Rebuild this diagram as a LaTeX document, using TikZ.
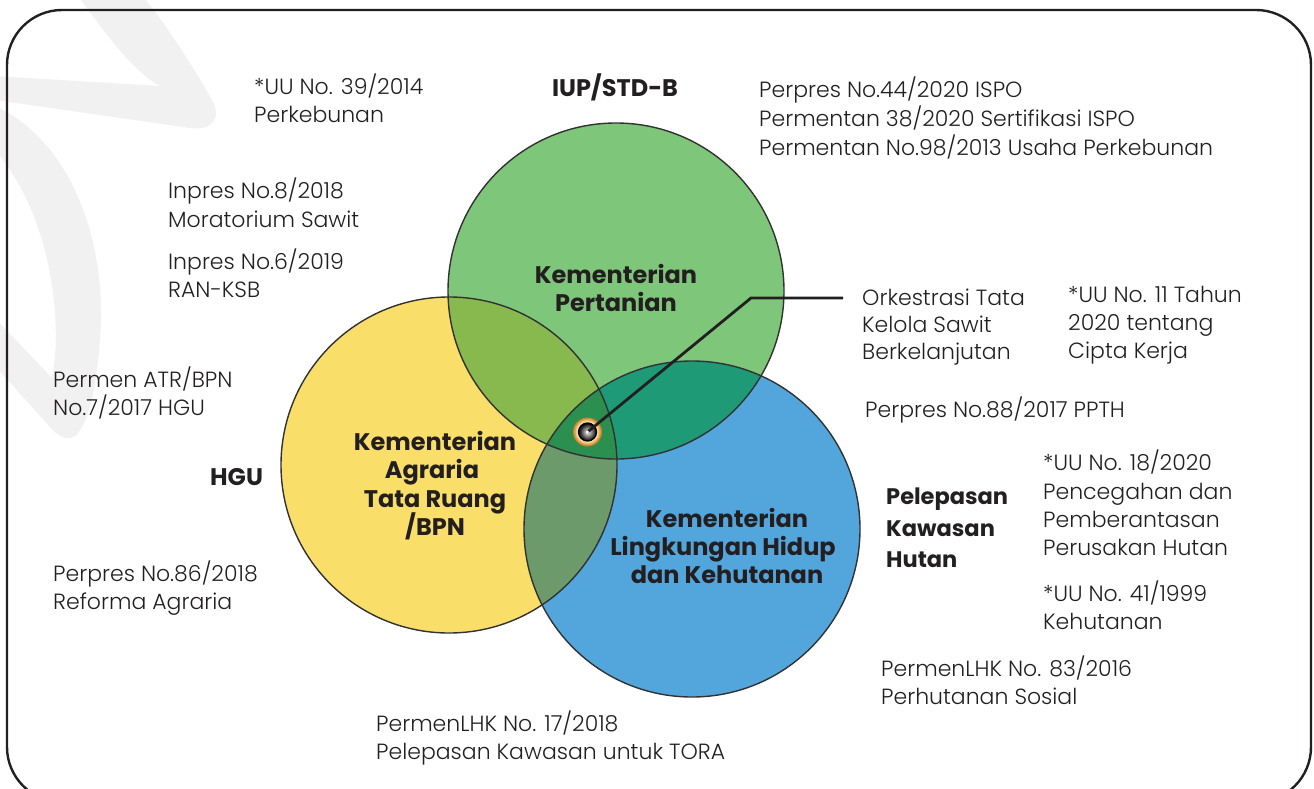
\documentclass[tikz,border=0pt]{standalone}
\usepackage{fontspec}
\setmainfont{Poppins}
\IfFontExistsTF{Poppins Light}{\newfontfamily\lightfont{Poppins Light}}{\newfontfamily\lightfont{Poppins}}
\definecolor{txt}{HTML}{231F20}
\definecolor{wm}{HTML}{F1F1F1}
\definecolor{cgreen}{HTML}{7EC67A}
\definecolor{cyellow}{HTML}{F9DF6A}
\definecolor{cblue}{HTML}{53A6DC}
\definecolor{cgy}{HTML}{88B94F}
\definecolor{cgb}{HTML}{1E9A76}
\definecolor{cyb}{HTML}{6C9A6A}
\definecolor{call}{HTML}{2B8F4F}
\definecolor{ring1}{HTML}{C4842F}
\definecolor{ring2}{HTML}{DDA353}
\definecolor{ring3}{HTML}{EEC57F}
\definecolor{ring4}{HTML}{F8DDA8}
\tikzset{
  lbl/.style={anchor=base west, inner sep=0pt, text=txt, font=\lightfont\fontsize{22}{26}\selectfont},
  blbl/.style={anchor=base, inner sep=0pt, text=txt, font=\bfseries\fontsize{24}{28}\selectfont},
  blblw/.style={anchor=base west, inner sep=0pt, text=txt, font=\bfseries\fontsize{22.5}{28}\selectfont},
  outline/.style={draw={rgb,255:red,50;green,50;blue,50}, line width=1.4pt},
  leader/.style={draw=txt, line width=2.8pt},
  frame/.style={draw=txt, line width=2.4pt, rounded corners=55pt}
}
\begin{document}
\begin{tikzpicture}[x=1pt,y=-1pt]
\useasboundingbox (0,0) rectangle (1314,789);
\clip (0,0) rectangle (1314,789);
% watermark
\fill[wm] (77,-5) .. controls (100,25) and (130,70) .. (160,86) -- (-5,76) -- (-5,100)
  -- (190,128) .. controls (212,131) and (222,118) .. (212,100)
  .. controls (195,70) and (170,30) .. (142,-5) -- cycle;
\fill[wm] (-5,106) .. controls (70,140) and (108,240) .. (100,340)
  .. controls (96,390) and (88,425) .. (75,436) .. controls (68,441) and (58,437) .. (50,427)
  -- (-5,366) -- (-5,318) -- (52,378) .. controls (62,330) and (55,220) .. (-5,150) -- cycle;
% frame
\draw[frame] (7,10) rectangle (1311,802);
% circle centres
\coordinate (G) at (616,291);
\coordinate (Y) at (449,465);
\coordinate (B) at (692,529);
% base fills
\fill[cyellow] (Y) circle[radius=168pt];
\fill[cgreen] (G) circle[radius=168pt];
\fill[cblue] (B) circle[radius=168pt];
\begin{scope}
  \clip (G) circle[radius=168pt];
  \fill[cgy] (Y) circle[radius=168pt];
  \fill[cgb] (B) circle[radius=168pt];
\end{scope}
\begin{scope}
  \clip (Y) circle[radius=168pt];
  \fill[cyb] (B) circle[radius=168pt];
  \clip (G) circle[radius=168pt];
  \fill[call] (B) circle[radius=168pt];
\end{scope}
\draw[outline] (Y) circle[radius=168pt];
\draw[outline] (G) circle[radius=168pt];
\draw[outline] (B) circle[radius=168pt];
% circle labels
\node[blbl] (g1) at (616,283) {Kementerian};
\node[blbl] (g2) at (616,311) {Pertanian};
\node[blbl] (y1) at (435,450) {Kementerian};
\node[blbl] (y2) at (432,478) {Agraria};
\node[blbl] (y3) at (435,507) {Tata Ruang};
\node[blbl] (y4) at (435,535) {/BPN};
\node[blbl] (b1) at (727,527) {Kementerian};
\node[blbl] (b2) at (723,555) {Lingkungan Hidup};
\node[blbl] (b3) at (727,583) {dan Kehutanan};
% outside bold labels
\node[blbl] (iup) at (615,97) {IUP/STD-B};
\node[blblw, font=\bfseries\fontsize{24}{28}\selectfont] (hgu) at (210,485) {HGU};
\node[blblw] (pk1) at (886,504) {Pelepasan};
\node[blblw] (pk2) at (886,536) {Kawasan};
\node[blblw] (pk3) at (886,567) {Hutan};
% regulation labels
\node[lbl] (a1) at (254,95) {*UU No. 39/2014};
\node[lbl] (a2) at (254,123) {Perkebunan};
\node[lbl] (c1) at (168,198) {Inpres No.8/2018};
\node[lbl] (c2) at (168,227) {Moratorium Sawit};
\node[lbl] (d1) at (168,269) {Inpres No.6/2019};
\node[lbl] (d2) at (168,297) {RAN-KSB};
\node[lbl] (e1) at (53,387) {Permen ATR/BPN};
\node[lbl] (e2) at (53,415) {No.7/2017 HGU};
\node[lbl] (f1) at (53,581) {Perpres No.86/2018};
\node[lbl] (f2) at (53,609) {Reforma Agraria};
\node[lbl] (h1) at (759,98) {Perpres No.44/2020 ISPO};
\node[lbl] (h2) at (759,127) {Permentan 38/2020 Sertifikasi ISPO};
\node[lbl] (h3) at (759,155) {Permentan No.98/2013 Usaha Perkebunan};
\node[lbl] (o1) at (862,305) {Orkestrasi Tata};
\node[lbl] (o2) at (862,332) {Kelola Sawit};
\node[lbl] (o3) at (862,359) {Berkelanjutan};
\node[lbl] (u1) at (1068,302) {*UU No. 11 Tahun};
\node[lbl] (u2) at (1068,330) {2020 tentang};
\node[lbl] (u3) at (1068,358) {Cipta Kerja};
\node[lbl] (p1) at (865,417) {Perpres No.88/2017 PPTH};
\node[lbl] (k1) at (1043,470) {*UU No. 18/2020};
\node[lbl] (k2) at (1043,499) {Pencegahan dan};
\node[lbl] (k3) at (1043,527) {Pemberantasan};
\node[lbl] (k4) at (1043,555) {Perusakan Hutan};
\node[lbl] (m1) at (1043,601) {*UU No. 41/1999};
\node[lbl] (m2) at (1043,629) {Kehutanan};
\node[lbl] (s1) at (881,676) {PermenLHK No. 83/2016};
\node[lbl] (s2) at (881,704) {Perhutanan Sosial};
\node[lbl] (t1) at (376,731) {PermenLHK No. 17/2018};
\node[lbl] (t2) at (376,759) {Pelepasan Kawasan untuk TORA};
% centre marker and leader
\coordinate (kink) at (751,298);
\coordinate (lend) at (843,298);
\fill[ring1] (587.5,432) circle[radius=14.5pt];
\fill[ring2] (587.5,432) circle[radius=13.3pt];
\fill[ring3] (587.5,432) circle[radius=12pt];
\fill[ring4] (587.5,432) circle[radius=10.8pt];
\shade[inner color=gray!10, outer color=black, draw=black, line width=1.3pt] (587.5,432) circle[radius=9pt];
\node[circle, inner sep=0pt, minimum size=18pt] (dot) at (587.5,432) {};
\draw[leader] (dot.center) -- (kink) -- (lend);
\fill[white] (dot.center) circle[radius=1.6pt];
\end{tikzpicture}
\end{document}
